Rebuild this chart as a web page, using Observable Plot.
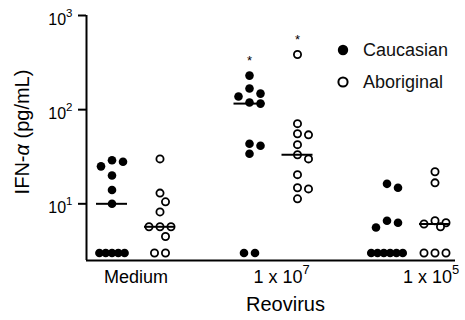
<!DOCTYPE html>
<html>
<head>
<meta charset="utf-8">
<script src="https://cdn.jsdelivr.net/npm/d3@7"></script>
<script src="https://cdn.jsdelivr.net/npm/@observablehq/plot@0.6"></script>
<style>
  html, body { margin: 0; padding: 0; background: white; }
  #wrap { position: relative; width: 465px; height: 320px; font-family: "Liberation Sans", Arial, Helvetica, sans-serif; }
  .leg { position: absolute; left: 336px; height: 20px; line-height: 20px; font-size: 18px; color: #111; }
  .leg svg { position: absolute; left: 0; top: 0; }
  .leg span { position: absolute; left: 27px; top: 0; white-space: nowrap; }
</style>
</head>
<body>
<div id="wrap"></div>
<script>
// ---- data ----
const groups = ["Medium", "1 x 10^7", "1 x 10^5"];
const seriesNames = ["Caucasian", "Aboriginal"];
const caucasian = [
  [3, 3, 3, 3, 3, 10, 14, 20, 25, 28, 29],
  [3, 3, 34, 41.4, 43.5, 116, 119, 138, 148, 168, 230],
  [3, 3, 3, 3, 3, 3, 5.6, 6.3, 6.6, 14.8, 16.3]
];
const aboriginal = [
  [3, 3, 4.5, 5.7, 5.7, 5.7, 8.2, 10.5, 13, 30],
  [11.3, 14.4, 14.8, 20.4, 30, 33.2, 42.5, 54, 55.5, 71, 385],
  [3, 3, 3, 5.7, 6.1, 6.3, 6.6, 16.7, 21.9]
];
const starsCaucasian = ["", "*", ""];
const starsAboriginal = ["", "*", ""];
const yTicks = [10, 100, 1000];
const yDomain = [2.5, 1000];
const yLabel = "IFN-α (pg/mL)";
const xLabel = "Reovirus";

// ---- layout constants ----
const W = 465, H = 320;
const mL = 86, mR = 10, mT = 15, mB = 60;
const unit = 137.5;                 // px per group step
const firstCenter = 135.5;          // px of first group centre
const xDomain = [(mL - firstCenter) / unit, (W - mR - firstCenter) / unit];
const seriesOffset = 24 / unit;
const labelNudge = [0, 8, 20];      // px shift of x tick labels
const medianHalf = 15.5 / unit;

const yPx = d3.scaleLog().domain(yDomain).range([H - mB, mT]);

// ---- compute dot positions (simple symmetric beeswarm) ----
const D = 10;
const points = [];
const medians = [];
const stars = [];
[caucasian, aboriginal].forEach((arr, si) => {
  groups.forEach((g, gi) => {
    const vals = arr[gi];
    const center = gi + (si === 0 ? -seriesOffset : seriesOffset);
    const placed = [];
    const counts = d3.rollup(vals, v => v.length, d => d);
    for (const [v, n] of counts) {
      if (n > 1) {
        const sp = n >= 5 ? 6.3 : 11;
        for (let k = 0; k < n; k++) placed.push({v, px: (k - (n - 1) / 2) * sp, py: yPx(v)});
      }
    }
    const singles = vals.filter(v => counts.get(v) === 1).sort((a, b) => b - a);
    const cands = [0, 5.5, -5.5, 11, -11];
    for (const v of singles) {
      const py = yPx(v);
      let best = null, bestD = -1;
      for (const c of cands) {
        const md = placed.length ? d3.min(placed, p => Math.hypot(p.px - c, p.py - py)) : Infinity;
        if (md >= D) { best = c; bestD = md; break; }
        if (md > bestD) { bestD = md; best = c; }
      }
      placed.push({v, px: best, py});
    }
    placed.forEach(p => points.push({series: seriesNames[si], value: p.v, x: center + p.px / unit}));
    medians.push({series: seriesNames[si], value: d3.median(vals), x1: center - medianHalf, x2: center + medianHalf});
    const st = (si === 0 ? starsCaucasian : starsAboriginal)[gi];
    if (st) stars.push({x: center, value: d3.max(vals), text: st});
  });
});

const font = "'Liberation Sans', Arial, Helvetica, sans-serif";

const chart = Plot.plot({
  width: W, height: H,
  marginLeft: mL, marginRight: mR, marginTop: mT, marginBottom: mB,
  style: {fontFamily: font, color: "black", background: "white", overflow: "visible"},
  x: {type: "linear", domain: xDomain, axis: null},
  y: {type: "log", domain: yDomain, axis: null},
  marks: [
    Plot.axisY({ticks: yTicks, tickSize: 8, strokeWidth: 2, tickFormat: () => "", label: null}),
    Plot.text(yTicks, {y: d => d, text: d => "10^" + Math.round(Math.log10(d)), frameAnchor: "left", textAnchor: "end", dx: -14, dy: 4, fontSize: 16}),
    Plot.ruleX([xDomain[0]], {stroke: "black", strokeWidth: 2}),
    Plot.ruleY([yDomain[0]], {stroke: "black", strokeWidth: 2}),
    Plot.dot(points.filter(d => d.series === "Caucasian"), {x: "x", y: "value", r: 4.3, fill: "black", stroke: "none"}),
    Plot.dot(points.filter(d => d.series === "Aboriginal"), {x: "x", y: "value", r: 3.6, fill: "white", stroke: "black", strokeWidth: 1.8}),
    Plot.ruleY(medians, {y: "value", x1: "x1", x2: "x2", stroke: "black", strokeWidth: 2}),
    Plot.text(stars, {x: "x", y: "value", text: "text", dy: -15, fontSize: 13}),
    Plot.text(groups, {x: (d, i) => i + labelNudge[i] / unit, text: d => d, frameAnchor: "bottom", textAnchor: "middle", dy: 22, fontSize: 18}),
    Plot.text([xLabel], {frameAnchor: "bottom", textAnchor: "middle", dx: 14.5, dy: 50, fontSize: 20}),
    Plot.text([yLabel], {frameAnchor: "left", textAnchor: "middle", rotate: -90, dx: -64, dy: -6, fontSize: 20})
  ]
});

// superscripts and italic alpha
const SVGNS = "http://www.w3.org/2000/svg";
chart.querySelectorAll("text").forEach(t => {
  const s = t.textContent;
  if (!s.includes("^") && !s.includes("α")) return;
  while (t.firstChild) t.removeChild(t.firstChild);
  const m = s.match(/^(.*)\^(\S+)$/);
  if (m) {
    t.appendChild(document.createTextNode(m[1]));
    const sup = document.createElementNS(SVGNS, "tspan");
    sup.setAttribute("font-size", "0.72em");
    sup.setAttribute("dy", "-0.65em");
    sup.textContent = m[2];
    t.appendChild(sup);
  } else {
    const parts = s.split("α");
    parts.forEach((p, i) => {
      if (i > 0) {
        const a = document.createElementNS(SVGNS, "tspan");
        a.setAttribute("font-style", "italic");
        a.textContent = "α";
        t.appendChild(a);
      }
      if (p) t.appendChild(document.createTextNode(p));
    });
  }
});

const wrap = document.getElementById("wrap");
wrap.appendChild(chart);

// legend (inside the plot area, top right)
const legendItems = [
  {name: seriesNames[0], filled: true, top: 40},
  {name: seriesNames[1], filled: false, top: 72}
];
legendItems.forEach(it => {
  const div = document.createElement("div");
  div.className = "leg";
  div.style.top = it.top + "px";
  div.innerHTML = `<svg width="20" height="20"><circle cx="7" cy="10" r="${it.filled ? 5.2 : 4.6}" fill="${it.filled ? "black" : "white"}" stroke="black" stroke-width="${it.filled ? 0 : 2}"/></svg><span>${it.name}</span>`;
  wrap.appendChild(div);
});
</script>
</body>
</html>
